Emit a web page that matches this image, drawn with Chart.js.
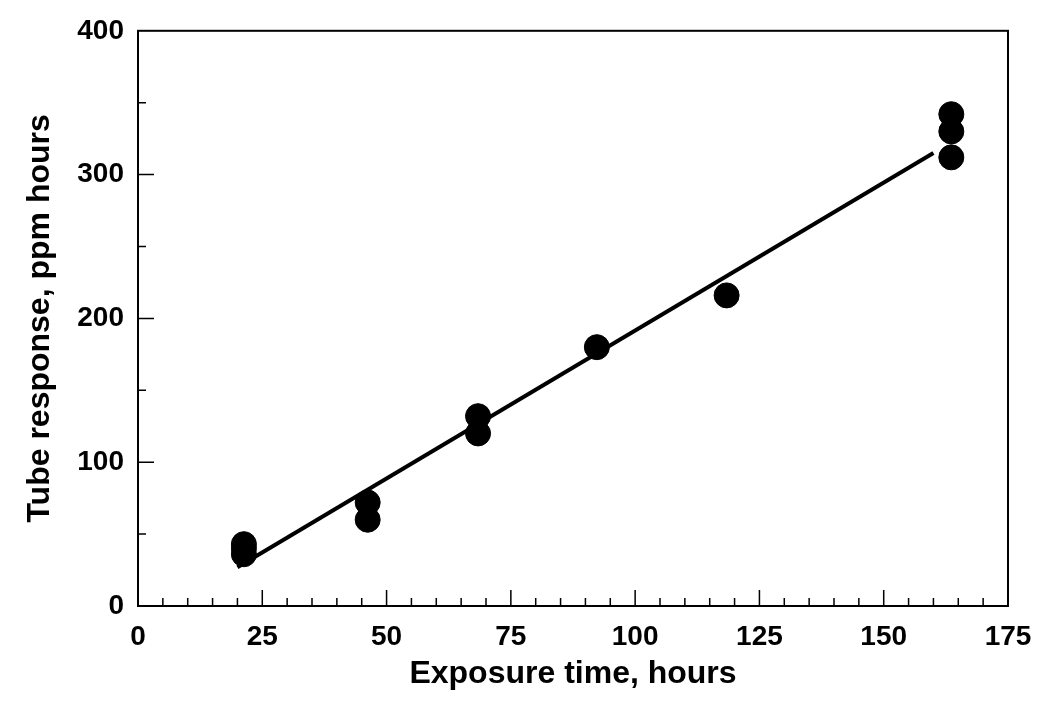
<!DOCTYPE html>
<html>
<head>
<meta charset="utf-8">
<script src="https://cdn.jsdelivr.net/npm/chart.js@4.4.1/dist/chart.umd.min.js"></script>
<style>
  html, body { margin: 0; padding: 0; background: #fff; }
  #wrap { width: 1050px; height: 717px; }
</style>
</head>
<body>
<div id="wrap"><canvas id="grafico"></canvas></div>
<script>
// ===== DATOS =====
const exposureHours = [21.3, 21.3, 21.3, 46.2, 46.2, 68.4, 68.4, 92.3, 118.4, 163.6, 163.6, 163.6];
const tubeResponse  = [36, 40, 43, 60, 72, 120, 132, 180, 216, 312, 330, 342];
const fitHours      = [20, 160];
const fitResponse   = [27, 315];
const xTicks = [0, 25, 50, 75, 100, 125, 150, 175];
const yTicks = [0, 100, 200, 300, 400];

const FONT = "'Liberation Sans', Arial, sans-serif";

// ticks hacia adentro + marco completo
const marcoPlugin = {
    id: 'marco',
    afterDraw(chart) {
        const { ctx, chartArea: a, scales } = chart;
        ctx.save();
        ctx.strokeStyle = '#000';
        ctx.lineWidth = 2;
        ctx.strokeRect(a.left, a.top, a.right - a.left, a.bottom - a.top);

        ctx.lineWidth = 1.5;
        ctx.beginPath();
        for (let v = 5; v < 175; v += 5) {
            const px = scales.x.getPixelForValue(v);
            const len = (v % 25 === 0) ? 16 : 8;
            ctx.moveTo(px, a.bottom);
            ctx.lineTo(px, a.bottom - len);
        }
        for (let v = 50; v < 400; v += 50) {
            const py = scales.y.getPixelForValue(v);
            const len = (v % 100 === 0) ? 16 : 8;
            ctx.moveTo(a.left, py);
            ctx.lineTo(a.left + len, py);
        }
        ctx.stroke();
        ctx.restore();
    }
};

new Chart(document.getElementById('grafico'), {
    type: 'scatter',
    data: {
        datasets: [
            {
                label: 'Ajuste',
                type: 'line',
                data: fitHours.map((x, i) => ({ x, y: fitResponse[i] })),
                borderColor: '#000',
                borderWidth: 4,
                pointRadius: 0,
                fill: false
            },
            {
                label: 'Medidas',
                data: exposureHours.map((x, i) => ({ x, y: tubeResponse[i] })),
                backgroundColor: '#000',
                borderColor: '#000',
                pointRadius: 12.5,
                pointHoverRadius: 12.5
            }
        ]
    },
    options: {
        responsive: true,
        maintainAspectRatio: false,
        animation: false,
        layout: { padding: { left: 0, right: 42, top: 28, bottom: 0 } },
        plugins: { legend: { display: false }, tooltip: { enabled: false } },
        scales: {
            x: {
                type: 'linear',
                min: 0, max: 175,
                afterBuildTicks: s => { s.ticks = xTicks.map(v => ({ value: v })); },
                afterFit: s => { s.height = 111; },
                grid: { display: false, drawTicks: false },
                border: { display: false },
                ticks: { color: '#000', padding: 14, font: { family: FONT, size: 28, weight: 'bold' } },
                title: {
                    display: true,
                    text: 'Exposure time, hours',
                    color: '#000',
                    font: { family: FONT, size: 32, weight: 'bold' },
                    padding: { top: 0, bottom: 24 }
                }
            },
            y: {
                type: 'linear',
                min: 0, max: 400,
                afterBuildTicks: s => { s.ticks = yTicks.map(v => ({ value: v })); },
                afterFit: s => { s.width = 138; },
                grid: { display: false, drawTicks: false },
                border: { display: false },
                ticks: { color: '#000', padding: 14, font: { family: FONT, size: 28, weight: 'bold' } },
                title: {
                    display: true,
                    text: 'Tube response, ppm hours',
                    color: '#000',
                    font: { family: FONT, size: 32, weight: 'bold' },
                    padding: { top: 21, bottom: 0 }
                }
            }
        }
    },
    plugins: [marcoPlugin]
});
</script>
</body>
</html>
